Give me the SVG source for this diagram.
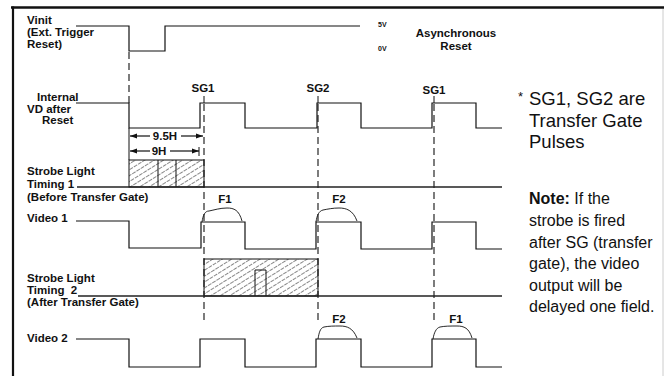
<svg xmlns="http://www.w3.org/2000/svg" width="664" height="376" viewBox="0 0 664 376">
<style>
.lbl{font-family:"Liberation Sans",Arial,sans-serif;font-weight:bold;font-size:11.5px;fill:#111}
.sm{font-family:"Liberation Sans",Arial,sans-serif;font-weight:bold;font-size:7px;fill:#111}
.big{font-family:"Liberation Sans",Arial,sans-serif;font-size:18.5px;fill:#111}
.note{font-family:"Liberation Sans",Arial,sans-serif;font-size:16px;fill:#111}
.sig{fill:none;stroke:#111;stroke-width:1.2}
.dash{fill:none;stroke:#111;stroke-width:1.1;stroke-dasharray:7,4}
.curve{fill:none;stroke:#111;stroke-width:0.9}
.base{fill:none;stroke:#222;stroke-width:1.4}
</style>
<defs>
<pattern id="hatch" width="5" height="5" patternUnits="userSpaceOnUse" patternTransform="rotate(-32)">
<line x1="0" y1="2.5" x2="5" y2="2.5" stroke="#555" stroke-width="0.7" stroke-dasharray="4,1"/>
</pattern>
<marker id="ah" viewBox="0 0 10 10" refX="10" refY="5" markerWidth="7" markerHeight="7" orient="auto-start-reverse" markerUnits="userSpaceOnUse">
<path d="M0,1.5 L10,5 L0,8.5 z" fill="#111"/>
</marker>
</defs>
<rect width="664" height="376" fill="#fff"/>
<g id="frame">
<line x1="11" y1="7.5" x2="664" y2="7.5" stroke="#111" stroke-width="2.5"/>
<line x1="13" y1="6.5" x2="13" y2="376" stroke="#111" stroke-width="2.2"/>
<line x1="663" y1="9" x2="663" y2="376" stroke="#ccc" stroke-width="1"/>
</g>
<g id="connectors">
<path class="dash" d="M129,52 V103"/>
<line x1="129" y1="128" x2="129" y2="160" stroke="#111" stroke-width="1"/>
<line x1="204" y1="96" x2="204" y2="103" stroke="#111" stroke-width="1"/>
<path class="dash" d="M204,104 V320"/>
<line x1="318" y1="96" x2="318" y2="103" stroke="#111" stroke-width="1"/>
<path class="dash" d="M318,104 V320"/>
<line x1="434" y1="96" x2="434" y2="103" stroke="#111" stroke-width="1"/>
<path class="dash" d="M434,104 V320"/>
<line x1="130" y1="136" x2="150" y2="136" stroke="#111" stroke-width="1.2" marker-start="url(#ah)"/>
<line x1="181" y1="136" x2="203" y2="136" stroke="#111" stroke-width="1.2" marker-end="url(#ah)"/>
<line x1="130" y1="151" x2="150" y2="151" stroke="#111" stroke-width="1.2" marker-start="url(#ah)"/>
<line x1="170" y1="151" x2="199" y2="151" stroke="#111" stroke-width="1.2" marker-end="url(#ah)"/>
<line x1="199" y1="147" x2="199" y2="156" stroke="#111" stroke-width="1"/>
</g>
<g id="vinit">
<text class="lbl" x="27" y="24">Vinit</text>
<text class="lbl" x="27" y="36">(Ext. Trigger</text>
<text class="lbl" x="27" y="48">Reset)</text>
<path class="sig" d="M76,26 H129 V51 H165 V26 H360"/>
<text class="sm" x="378" y="27">5V</text>
<text class="sm" x="378" y="51">0V</text>
<text class="lbl" x="456" y="37" text-anchor="middle">Asynchronous</text>
<text class="lbl" x="456" y="50" text-anchor="middle">Reset</text>
</g>
<g id="internal-vd">
<text class="lbl" x="37" y="101">Internal</text>
<text class="lbl" x="27" y="113">VD after</text>
<text class="lbl" x="42" y="124">Reset</text>
<path class="sig" d="M76,103 H129 V128 H200 V103 H245 V128 H317 V103 H361 V128 H432 V103 H476 V128 H502"/>
<text class="lbl" x="203" y="92" text-anchor="middle">SG1</text>
<text class="lbl" x="318" y="92" text-anchor="middle">SG2</text>
<text class="lbl" x="434" y="94" text-anchor="middle">SG1</text>
</g>
<g id="timing-marks">
<text class="lbl" x="165" y="140" text-anchor="middle">9.5H</text>
<text class="lbl" x="159" y="155" text-anchor="middle">9H</text>
</g>
<g id="strobe1">
<text class="lbl" x="27" y="175">Strobe Light</text>
<text class="lbl" x="27" y="188">Timing 1</text>
<text class="lbl" x="27" y="201">(Before Transfer Gate)</text>
<rect x="129" y="160" width="75" height="27" fill="url(#hatch)" stroke="#111" stroke-width="1"/>
<line x1="158" y1="160" x2="158" y2="187" stroke="#111" stroke-width="1"/>
<line x1="176" y1="160" x2="176" y2="187" stroke="#111" stroke-width="1"/>
<path class="base" d="M77,187 H502"/>
</g>
<g id="video1">
<text class="lbl" x="27" y="222">Video 1</text>
<path class="sig" d="M76,221 H129 V248 H201 V222 H245 V249 H316 V222 H361 V249 H432 V222 H476 V249 H502"/>
<path class="curve" d="M202,222 C203,215 205,211 209,211 C214,210 220,208 227,208 C234,208 239,210 242,221"/>
<path class="curve" d="M316,222 C317,215 319,211 323,210 C328,209 333,208 339,208 C346,208 353,210 357,221"/>
<text class="lbl" x="225" y="203" text-anchor="middle">F1</text>
<text class="lbl" x="339" y="203" text-anchor="middle">F2</text>
</g>
<g id="strobe2">
<text class="lbl" x="27" y="282">Strobe Light</text>
<text class="lbl" x="27" y="294" xml:space="preserve">Timing&#160; 2</text>
<text class="lbl" x="27" y="306">(After Transfer Gate)</text>
<rect x="204" y="259" width="114" height="37" fill="url(#hatch)" stroke="#111" stroke-width="1"/>
<path d="M255,296 V270 H266 V296" fill="none" stroke="#111" stroke-width="1"/>
<path class="base" d="M78,296 H502"/>
</g>
<g id="video2">
<text class="lbl" x="27" y="342">Video 2</text>
<path class="sig" d="M76,339 H129 V367 H200 V339 H245 V367 H316 V339 H361 V367 H432 V339 H476 V367 H502"/>
<path class="curve" d="M318,339 C319,333 320,328 324,327 C329,326 334,326 340,326 C347,326 353,328 357,338"/>
<path class="curve" d="M433,339 C434,333 436,328 440,327 C445,326 450,326 457,326 C464,326 469,328 472,338"/>
<text class="lbl" x="339" y="323" text-anchor="middle">F2</text>
<text class="lbl" x="456" y="323" text-anchor="middle">F1</text>
</g>
<g id="notes">
<text class="note" x="518" y="101" style="font-size:13px">*</text>
<text class="big" x="529" y="105">SG1, SG2 are</text>
<text class="big" x="529" y="127">Transfer Gate</text>
<text class="big" x="529" y="148">Pulses</text>
<text class="note" x="529" y="204"><tspan font-weight="bold">Note:</tspan> If the</text>
<text class="note" x="529" y="226">strobe is fired</text>
<text class="note" x="529" y="247.5">after SG (transfer</text>
<text class="note" x="529" y="269">gate), the video</text>
<text class="note" x="529" y="290.5">output will be</text>
<text class="note" x="529" y="312">delayed one field.</text>
</g>
</svg>
